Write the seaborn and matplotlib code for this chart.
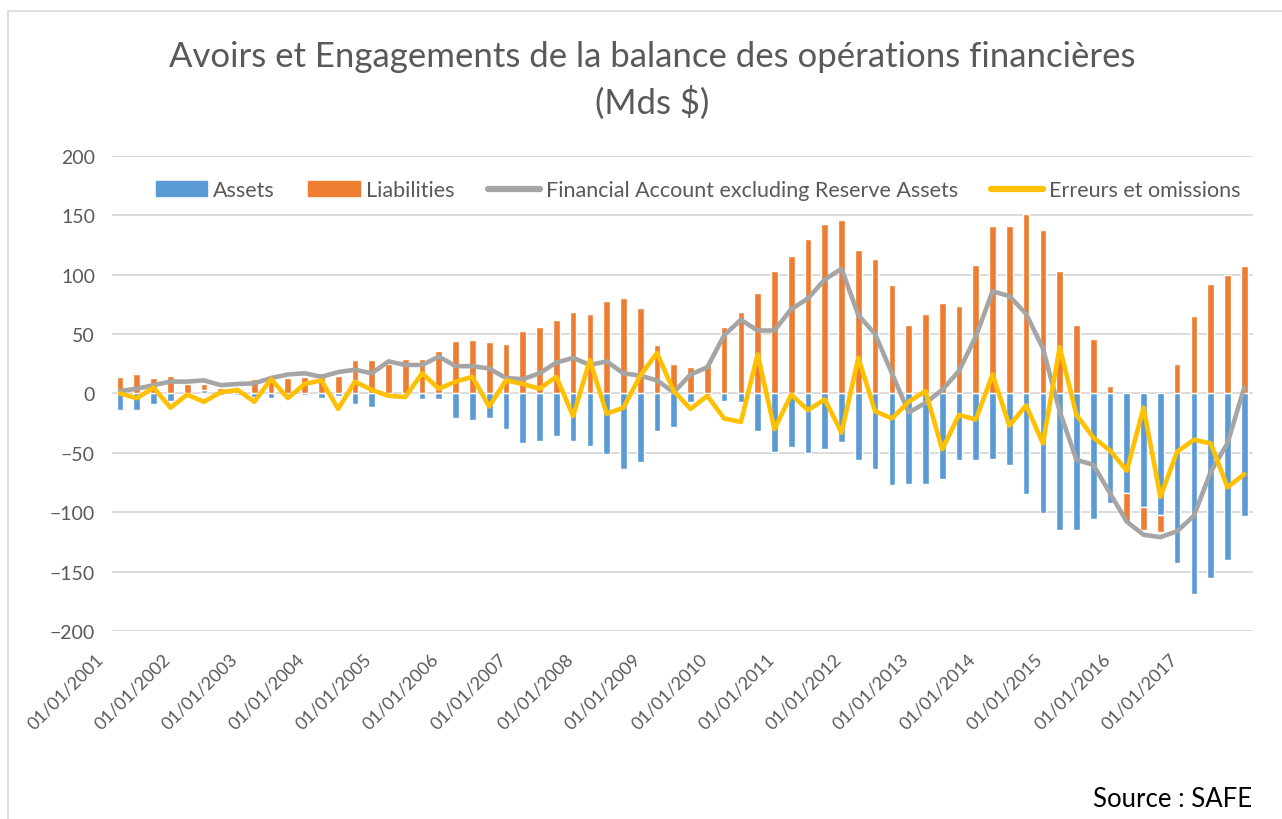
import numpy as np
import pandas as pd
import matplotlib
matplotlib.use("Agg")
import matplotlib.pyplot as plt
import matplotlib.transforms as mtransforms
from matplotlib.lines import Line2D
from matplotlib.patches import Patch, Rectangle
import seaborn as sns

# quarterly data, Mds $
quarters = pd.period_range("2001Q1", "2017Q4", freq="Q")
tick_labels = [q.start_time.strftime("%d/%m/%Y") for q in quarters]

assets = [-14, -14, -9, -6, -1, 3, -1, -1, -3, -4,
          -3, -1, -4, -2, -9, -11, -2, -1, -5, -5,
          -21, -22, -21, -30, -42, -40, -36, -40, -44, -51,
          -64, -58, -32, -28, -7, -1, -6, -7, -32, -49,
          -45, -50, -47, -41, -56, -64, -77, -76, -76, -72,
          -56, -56, -55, -60, -85, -101, -115, -115, -106, -92,
          -84, -96, -102, -143, -169, -155, -140, -103]
liabilities = [14, 16, 13, 15, 8, 5, 5, 4, 12, 14,
               13, 14, 17, 15, 28, 28, 25, 29, 29, 36,
               44, 45, 43, 42, 53, 56, 62, 69, 67, 78,
               80, 72, 41, 25, 22, 25, 56, 69, 85, 103,
               116, 130, 143, 146, 121, 113, 91, 58, 67, 76,
               74, 108, 141, 141, 151, 138, 103, 58, 46, 6,
               -24, -19, -15, 25, 65, 92, 100, 107]
financial_account = [2, 4, 7, 10, 10, 11, 7, 8, 8.5, 13,
                     16, 17, 14, 18, 20, 17, 27, 24, 24, 31,
                     23, 23, 21, 13, 12, 17, 26, 30, 24, 27,
                     17, 15, 11, 1, 16, 22, 49, 62, 53, 53,
                     71, 80, 96, 105, 66, 50, 17, -16, -8, 3,
                     19, 48, 86, 82, 67, 38, -15, -56, -60, -84,
                     -108, -119, -121, -116, -103, -66, -42, 5]
errors_omissions = [0, -4, 5, -12, -1, -7, 1, 3, -7, 12,
                    -4, 8, 11, -13, 10, 3, -2, -3, 17, 4,
                    10, 14, -11, 11, 8, 4, 14, -19, 28, -17,
                    -12, 15, 34, 2, -13, -2, -21, -24, 33, -30,
                    -1, -14, -5, -33, 30, -15, -21, -7, 2, -47,
                    -18, -22, 16, -27, -10, -42, 39, -18, -37, -48,
                    -65, -12, -87, -49, -39, -42, -79, -68]

c_assets = "#5B9BD5"
c_liab = "#ED7D31"
c_fa = "#A5A5A5"
c_err = "#FFC000"
txt = "#595959"

sns.set_theme(style="white")
plt.rcParams["font.family"] = ["Lato", "DejaVu Sans"]

pos = np.arange(len(quarters))
assets_arr = np.array(assets, dtype=float)
liab_arr = np.array(liabilities, dtype=float)
# excel style stacking: positive and negative parts stack separately
liab_bottom = np.where(np.sign(liab_arr) == np.sign(assets_arr), assets_arr, 0)

fig = plt.figure(figsize=(12.82, 8.2), dpi=100)
fig.patch.set_facecolor("white")
fig.patches.append(Rectangle((8 / 1282, -0.01), 1.2, 1 - 12 / 820 + 0.01,
                             transform=fig.transFigure, fill=False,
                             edgecolor="#D9D9D9", linewidth=1.2))

ax = fig.add_axes([0.0871, 0.2293, 0.890, 0.5793])

sns.barplot(x=pos, y=assets, color=c_assets, saturation=1, width=0.4,
            native_scale=True, ax=ax, zorder=2)
ax.bar(pos, liab_arr, bottom=liab_bottom, width=0.4, color=c_liab, zorder=2)
sns.lineplot(x=pos, y=financial_account, color=c_fa, linewidth=3.3,
             sort=False, errorbar=None, ax=ax, zorder=3)
sns.lineplot(x=pos, y=errors_omissions, color=c_err, linewidth=3.3,
             sort=False, errorbar=None, ax=ax, zorder=4)

ax.set_xlim(-0.5, len(pos) - 0.5)
ax.set_ylim(-200, 200)
ax.set_yticks(range(-200, 201, 50))
ax.yaxis.grid(True, color="#D9D9D9", linewidth=1.3, zorder=0)
ax.set_axisbelow(True)
for s in ax.spines.values():
    s.set_visible(False)
ax.tick_params(axis="y", length=0, labelsize=14, labelcolor=txt, pad=12)

ax.set_xticks(pos[::4])
ax.set_xticklabels(tick_labels[::4], rotation=45, ha="right", va="top",
                   rotation_mode="anchor")
ax.tick_params(axis="x", length=0, labelsize=13, labelcolor=txt, pad=0)
offset = mtransforms.ScaledTranslation(-0.25, -0.19, fig.dpi_scale_trans)
for lab in ax.get_xticklabels():
    lab.set_transform(lab.get_transform() + offset)
ax.set_xlabel("")
ax.set_ylabel("")

fig.text(0.5086, 1 - 57 / 820, "Avoirs et Engagements de la balance des opérations financières",
         ha="center", va="center", fontsize=25, color=txt)
fig.text(0.5086, 1 - 103 / 820, "(Mds $)", ha="center", va="center",
         fontsize=25, color=txt)

handles = [Patch(color=c_assets), Patch(color=c_liab),
           Line2D([], [], color=c_fa, linewidth=4.5, solid_capstyle="round"),
           Line2D([], [], color=c_err, linewidth=4.5, solid_capstyle="round")]
names = ["Assets", "Liabilities", "Financial Account excluding Reserve Assets",
         "Erreurs et omissions"]
fig.legend(handles, names, loc="center", bbox_to_anchor=(0.5445, 1 - 191 / 820),
           ncol=4, frameon=False, fontsize=15.5, labelcolor=txt,
           handlelength=2.4, handleheight=0.65, handletextpad=0.28,
           columnspacing=1.55)

fig.text(0.977, 1 - 800 / 820, "Source : SAFE", ha="right", va="center",
         fontsize=18.5, color="black")

fig.savefig("out.png", dpi=100, facecolor="white")
